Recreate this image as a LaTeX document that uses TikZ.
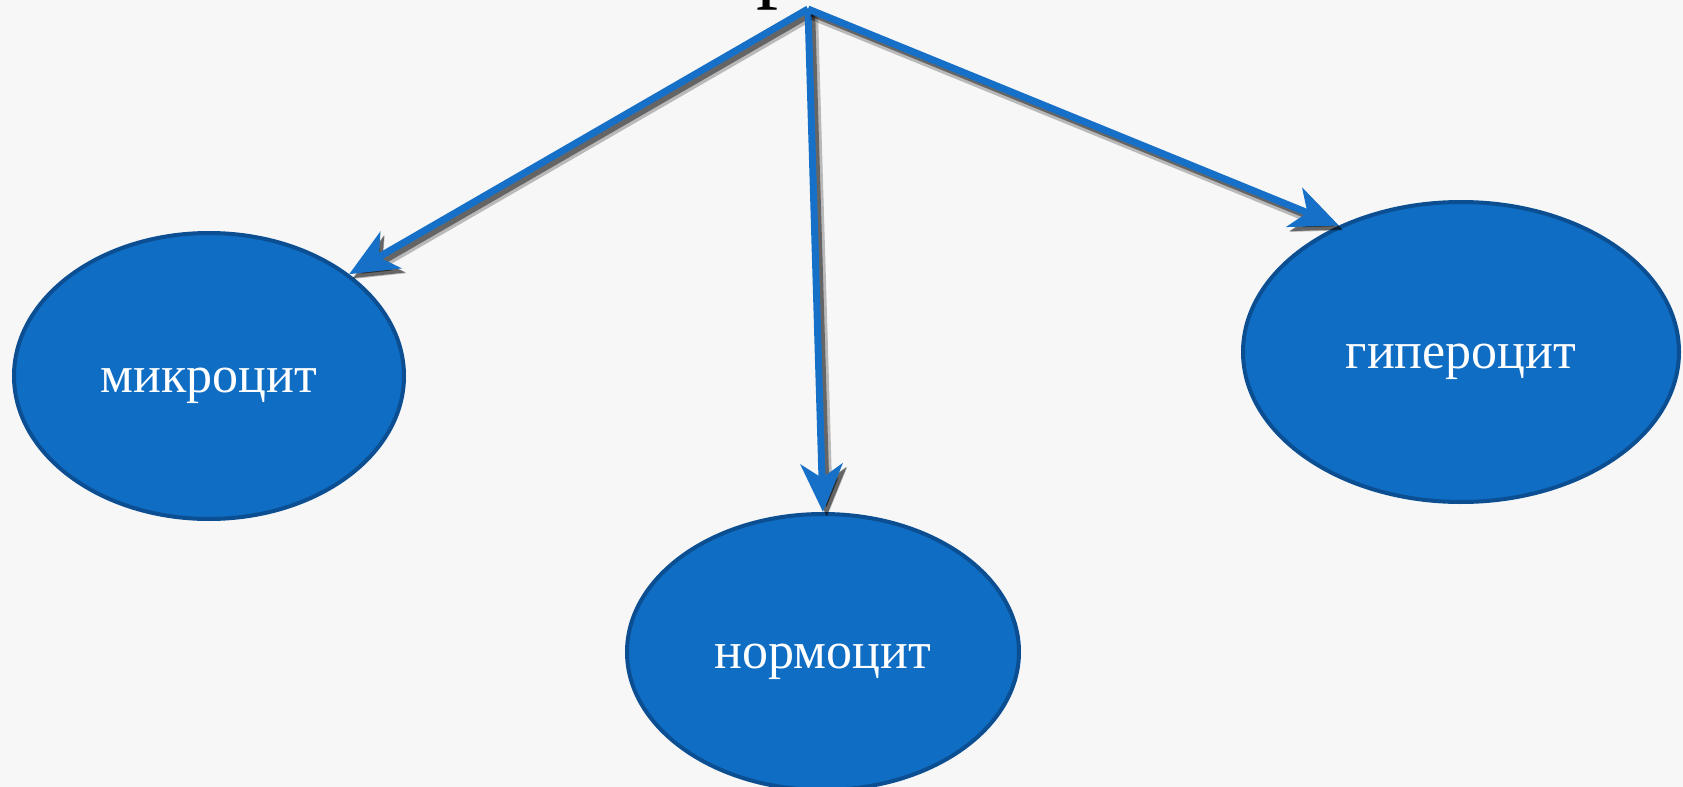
\documentclass[tikz,border=0pt]{standalone}
\usepackage{fontspec}
\setmainfont{Liberation Serif}
\usetikzlibrary{arrows.meta, shapes.geometric}
\definecolor{cellblue}{HTML}{0F6DC4}
\definecolor{cellrim}{HTML}{0B4F92}
\definecolor{arrowblue}{HTML}{1670C8}
% text a little below the middle of the cell
\newcommand{\celltext}[1]{\raisebox{-5pt}[\height][\depth]{#1}}

\begin{document}
\begin{tikzpicture}[x=0.5pt, y=-0.5pt,
    cell/.style={ellipse, draw=cellrim, line width=2pt, fill=cellblue,
                 text=white, inner sep=0pt, font=\fontsize{26}{30}\selectfont},
    link/.style={-{Stealth[length=24pt, width=21pt, inset=7pt]}, draw=arrowblue,
                 line width=3.5pt,
                 preaction={draw=black, opacity=.25, line width=6pt,
                            transform canvas={xshift=2pt, yshift=-2.4pt}},
                 preaction={draw=black, opacity=.45, line width=3.6pt,
                            transform canvas={xshift=1.8pt, yshift=-2pt}}}]
    % page and background
    \useasboundingbox[fill=white!97!black] (0,0) rectangle (1683,787);
    % foot of the heading, cut by the page top
    \node[anchor=base, font=\fontsize{44}{48}\selectfont] (head) at (778,-9) {р};
    % the three cells
    \node[cell, minimum width=195pt, minimum height=143pt] (mic) at (209,376)
        {\celltext{микроцит}};
    \node[cell, minimum width=196pt, minimum height=138pt] (norm) at (823,652)
        {\celltext{нормоцит}};
    \node[cell, minimum width=218pt, minimum height=150pt] (hyp) at (1461,352)
        {\celltext{гипероцит}};
    % arrows out of one point
    \coordinate (top) at (808,9);
    \draw[link] (top) -- (mic.36);
    \draw[link] (top) -- (norm.north);
    \draw[link] (top) -- (hyp.134);
\end{tikzpicture}
\end{document}
